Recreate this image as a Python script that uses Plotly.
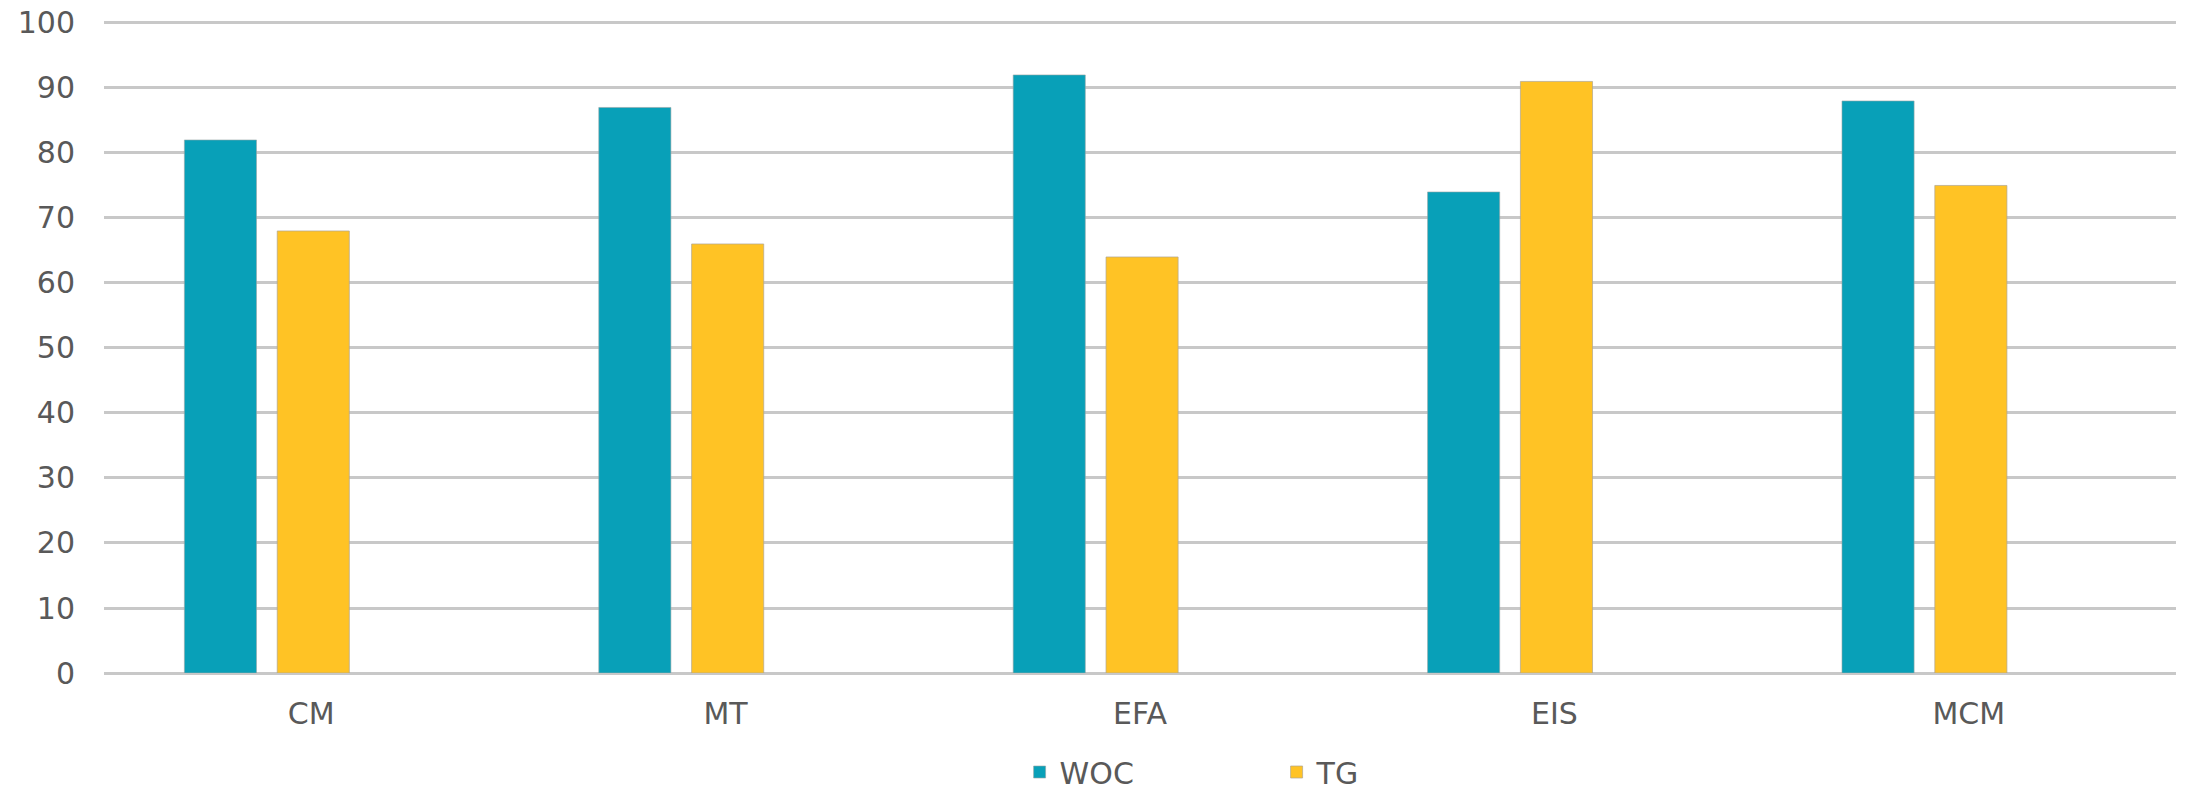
import plotly.graph_objects as go

categories = ["CM", "MT", "EFA", "EIS", "MCM"]
woc_values = [82, 87, 92, 74, 88]
tg_values = [68, 66, 64, 91, 75]
y_ticks = [0, 10, 20, 30, 40, 50, 60, 70, 80, 90, 100]

FONT = "DejaVu Sans"
TXT = "#595959"
BAR_W = 0.174

fig = go.Figure()
fig.add_trace(go.Bar(
    x=categories, y=woc_values, name="WOC",
    marker=dict(color="#08A0B8", line=dict(color="rgba(150,165,165,0.6)", width=1)),
    width=BAR_W, offset=-0.306,
))
fig.add_trace(go.Bar(
    x=categories, y=tg_values, name="TG",
    marker=dict(color="#FFC325", line=dict(color="rgba(175,165,145,0.7)", width=1)),
    width=BAR_W, offset=-0.082,
))

fig.update_layout(
    width=2188, height=795,
    margin=dict(l=104, r=12, t=21, b=122, autoexpand=False),
    paper_bgcolor="white", plot_bgcolor="white",
    font=dict(family=FONT, size=30, color=TXT),
    showlegend=True,
    legend=dict(
        orientation="h", xref="container", yref="container",
        x=0.466, xanchor="left", y=1 - 772 / 795, yanchor="middle",
        entrywidth=212, entrywidthmode="pixels",
        font=dict(family=FONT, size=30, color=TXT),
        bgcolor="rgba(0,0,0,0)",
    ),
    xaxis=dict(
        type="category", showgrid=False, showline=False, zeroline=False,
        ticks="", tickfont=dict(family=FONT, size=30, color=TXT),
        ticklabelstandoff=20, automargin=False,
    ),
    yaxis=dict(
        range=[0, 100.3], tickvals=y_ticks, showgrid=True,
        gridcolor="#c8c8c8", gridwidth=3,
        zeroline=True, zerolinecolor="#c8c8c8", zerolinewidth=3,
        showline=False, ticks="", automargin=False,
        tickfont=dict(family=FONT, size=30, color=TXT),
        ticklabelstandoff=28,
    ),
)

fig.write_html("out.html")
